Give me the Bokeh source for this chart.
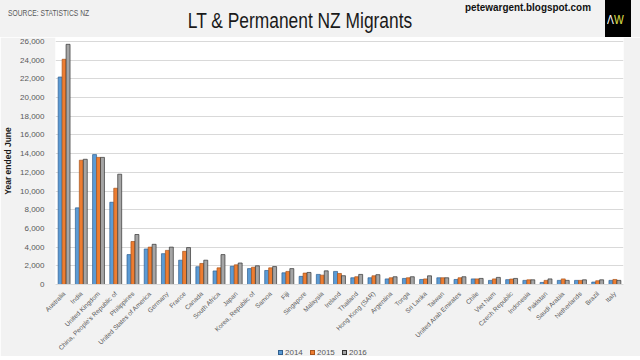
import math
from bokeh.plotting import figure
from bokeh.layouts import column
from bokeh.models import (FactorRange, Range1d, FixedTicker, NumeralTickFormatter,
                          ColumnDataSource, Div)
from bokeh.transform import dodge
from bokeh.embed import file_html
from bokeh.resources import INLINE

countries = ["Australia", "India", "United Kingdom", "China, People's Republic of", "Philippines",
             "United States of America", "Germany", "France", "Canada", "South Africa", "Japan",
             "Korea, Republic of", "Samoa", "Fiji", "Singapore", "Malaysia", "Ireland", "Thailand",
             "Hong Kong (SAR)", "Argentina", "Tonga", "Sri Lanka", "Taiwan", "United Arab Emirates",
             "Chile", "Viet Nam", "Czech Republic", "Indonesia", "Pakistan", "Saudi Arabia",
             "Netherlands", "Brazil", "Italy"]
v2014 = [22200, 8200, 13900, 8800, 3200, 3800, 3300, 2600, 1900, 1450, 1950, 1700, 1500, 1250, 870,
         1080, 1400, 720, 720, 600, 650, 540, 720, 540, 600, 440, 520, 440, 220, 440, 440, 260, 440]
v2015 = [24100, 13300, 13600, 10300, 4600, 4000, 3650, 3550, 2250, 1780, 2100, 1850, 1780, 1400, 1220,
         1000, 1180, 830, 930, 720, 720, 600, 720, 720, 600, 600, 580, 500, 440, 600, 440, 400, 540]
v2016 = [25700, 13400, 13600, 11800, 5350, 4300, 4000, 3950, 2600, 3200, 2300, 2000, 1920, 1700, 1290,
         1460, 940, 1080, 1050, 830, 830, 930, 720, 830, 650, 760, 650, 500, 600, 440, 500, 500, 440]
years = ["2014", "2015", "2016"]
colors = ["#5b9bd5", "#ed7d31", "#a5a5a5"]
edges = ["#2f5f8f", "#a8541c", "#333333"]
y_ticks = list(range(0, 26001, 2000))

title_text = "LT &amp; Permanent NZ Migrants"
source_text = "SOURCE: STATISTICS NZ"
blog_text = "petewargent.blogspot.com"

FONT = "Liberation Sans"
GREY_TXT = "#595959"
BG = "#f2f2f2"

header_html = f"""
<div style="position:relative;width:640px;height:37px;background:{BG};overflow:hidden;
 font-family:'Liberation Sans',Arial,sans-serif;">
 <div style="position:absolute;left:8px;top:8px;font-size:8.5px;line-height:10px;color:{GREY_TXT};
  white-space:nowrap;transform:scaleX(0.79);transform-origin:left center;">{source_text}</div>
 <div style="position:absolute;left:100px;width:400px;top:10px;font-size:22px;line-height:22px;
  color:#1a1a1a;text-align:center;white-space:nowrap;transform:scaleX(0.79);
  transform-origin:center center;">{title_text}</div>
 <div style="position:absolute;left:465px;top:2px;font-size:11px;line-height:11px;color:#111;
  font-weight:bold;white-space:nowrap;transform:scaleX(0.9);transform-origin:left center;">{blog_text}</div>
 <div style="position:absolute;left:605px;top:0px;width:26px;height:37px;background:#000;"></div>
 <div style="position:absolute;left:607px;top:14px;font-size:12px;line-height:12px;color:#fff;
  white-space:nowrap;transform:scaleX(0.86);transform-origin:left center;">&Lambda;<span
  style="color:#e1e34a;">W</span></div>
</div>
"""
header = Div(text=header_html, width=640, height=37, margin=0)

legend_items = ""
for i, (yr, c, e) in enumerate(zip(years, colors, edges)):
    left = 278 + 32 * i
    legend_items += (f'<div style="position:absolute;left:{left}px;top:2px;width:5px;height:5px;'
                     f'background:{c};border:0.5px solid {e};"></div>'
                     f'<div style="position:absolute;left:{left + 7}px;top:0px;font-size:8px;'
                     f'line-height:10px;color:{GREY_TXT};white-space:nowrap;">{yr}</div>')
footer_html = (f'<div style="position:relative;width:640px;height:12px;overflow:hidden;'
               f"font-family:'Liberation Sans',Arial,sans-serif;\">{legend_items}</div>")
footer = Div(text=footer_html, width=640, height=12, margin=(-8, 0, 0, 0))

src = ColumnDataSource(dict(c=countries, a=v2014, b=v2015, d=v2016))

fig = figure(width=640, height=319, output_backend="svg", toolbar_location=None,
             x_range=FactorRange(factors=countries, range_padding=0),
             y_range=Range1d(0, 26430),
             min_border_left=55, min_border_right=17, min_border_top=0, min_border_bottom=72)
fig.border_fill_color = BG
fig.background_fill_color = "white"
fig.outline_line_color = None

w = 0.23
fig.vbar(x=dodge("c", -w, range=fig.x_range), top="a", width=w, source=src,
         fill_color=colors[0], line_color=edges[0], line_width=0.7)
fig.vbar(x=dodge("c", 0, range=fig.x_range), top="b", width=w, source=src,
         fill_color=colors[1], line_color=edges[1], line_width=0.7)
fig.vbar(x=dodge("c", w, range=fig.x_range), top="d", width=w, source=src,
         fill_color=colors[2], line_color=edges[2], line_width=0.7)

fig.xgrid.grid_line_color = None
fig.ygrid.grid_line_color = "#d9d9d9"
fig.yaxis.ticker = FixedTicker(ticks=y_ticks)
fig.ygrid.ticker = FixedTicker(ticks=y_ticks)
fig.yaxis.formatter = NumeralTickFormatter(format="0,0")
fig.yaxis.axis_line_color = None
fig.yaxis.major_tick_line_color = None
fig.yaxis.minor_tick_line_color = None
fig.yaxis.major_label_standoff = 5
fig.yaxis.major_label_text_font = FONT
fig.yaxis.major_label_text_font_size = "8px"
fig.yaxis.major_label_text_color = GREY_TXT
fig.yaxis.axis_label = "Year ended June"
fig.yaxis.axis_label_text_font = FONT
fig.yaxis.axis_label_text_font_size = "8.5px"
fig.yaxis.axis_label_text_font_style = "bold"
fig.yaxis.axis_label_text_color = "#1a1a1a"
fig.yaxis.axis_label_standoff = 4

fig.xaxis.major_label_orientation = math.pi / 4
fig.xaxis.major_label_text_font = FONT
fig.xaxis.major_label_text_font_size = "6.5px"
fig.xaxis.major_label_text_color = GREY_TXT
fig.xaxis.major_label_standoff = 2
fig.xaxis.major_tick_line_color = None
fig.xaxis.minor_tick_line_color = None
fig.xaxis.axis_line_color = "#d9d9d9"

p = column(header, fig, footer, spacing=0)

open("out.html", "w").write(file_html(p, INLINE))
